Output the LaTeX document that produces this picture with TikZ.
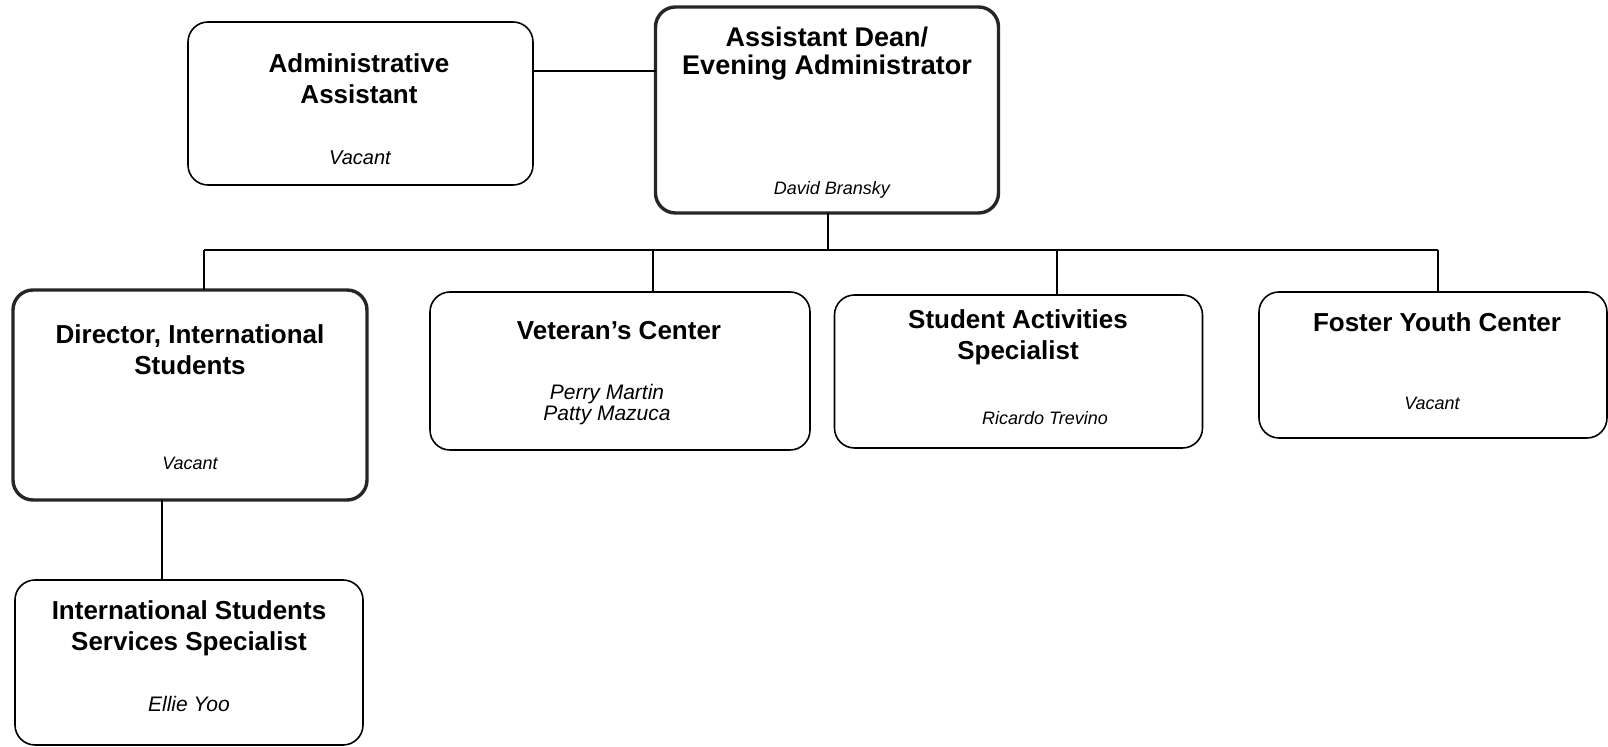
\documentclass[tikz,border=0pt]{standalone}
\usepackage{fontspec}
\setmainfont{Liberation Sans}
\begin{document}
\begin{tikzpicture}[x=0.5pt,y=-0.5pt,
  box/.style={draw, rounded corners=10pt, line width=0.8pt, inner sep=0pt, outer sep=0pt},
  boxthick/.style={box, line width=1.7pt, draw=black!85},
  ttl/.style={font=\bfseries\fontsize{13}{15.5}\selectfont, align=center, inner sep=0pt},
  nm/.style={font=\itshape\fontsize{10}{10.5}\selectfont, align=center, inner sep=0pt},
  nmsmall/.style={nm, font=\itshape\fontsize{9}{10}\selectfont},
  nmbig/.style={nm, font=\itshape\fontsize{10.5}{10.5}\selectfont},
  conn/.style={line width=0.8pt}]
\fill[white] (0,0) rectangle (1608,747);
\useasboundingbox (0,0) rectangle (1608,747);

% boxes
\node[box, minimum width=172.5pt, minimum height=81.5pt] (admin) at (360.5,103.5) {};
\node[boxthick, minimum width=171.5pt, minimum height=103pt] (dean) at (827,110) {};
\node[boxthick, minimum width=177pt, minimum height=105pt] (dir) at (190,395) {};
\node[box, minimum width=190pt, minimum height=79pt] (vet) at (620,371) {};
\node[box, minimum width=184pt, minimum height=76.5pt] (sa) at (1018.5,371.5) {};
\node[box, minimum width=174pt, minimum height=73pt] (fy) at (1433,365) {};
\node[box, minimum width=174pt, minimum height=82.5pt] (iss) at (189,662.5) {};

% texts
\node[ttl] (adminT) at (359,79) {Administrative\\Assistant};
\node[nm] (adminN) at (360,158) {Vacant};
\node[ttl, font=\bfseries\fontsize{13.5}{14}\selectfont] (deanT) at (827,54) {Assistant Dean/\\Evening Administrator};
\node[nmsmall] (deanN) at (832,190) {David Bransky};
\node[ttl] (dirT) at (190,350) {Director, International\\Students};
\node[nmsmall] (dirN) at (190,463) {Vacant};
\node[ttl] (vetT) at (619,331) {Veteran's Center};
\node[nmbig] (vetN) at (607,405) {Perry Martin\\Patty Mazuca};
\node[ttl] (saT) at (1018,337) {Student Activities\\Specialist};
\node[nmsmall] (saN) at (1045,418) {Ricardo Trevino};
\node[ttl] (fyT) at (1437,322) {Foster Youth Center};
\node[nmsmall] (fyN) at (1432,403) {Vacant};
\node[ttl] (issT) at (189,628) {International Students\\Services Specialist};
\node[nmbig] (issN) at (189,704) {Ellie Yoo};

% connector coordinates
\coordinate (ja) at (0,71);
\coordinate (busL) at (204,250);
\coordinate (busR) at (1438,250);
\coordinate (jd) at (828,250);
\coordinate (jv) at (653,250);
\coordinate (js) at (1057,250);
\coordinate (ji) at (162,0);

% connectors
\draw[conn] (admin.east |- ja) -- (dean.west |- ja);
\draw[conn] (jd |- dean.south) -- (jd);
\draw[conn] (busL) -- (busR);
\draw[conn] (busL) -- (busL |- dir.north);
\draw[conn] (jv) -- (jv |- vet.north);
\draw[conn] (js) -- (js |- sa.north);
\draw[conn] (busR) -- (busR |- fy.north);
\draw[conn] (ji |- dir.south) -- (ji |- iss.north);
\end{tikzpicture}
\end{document}
